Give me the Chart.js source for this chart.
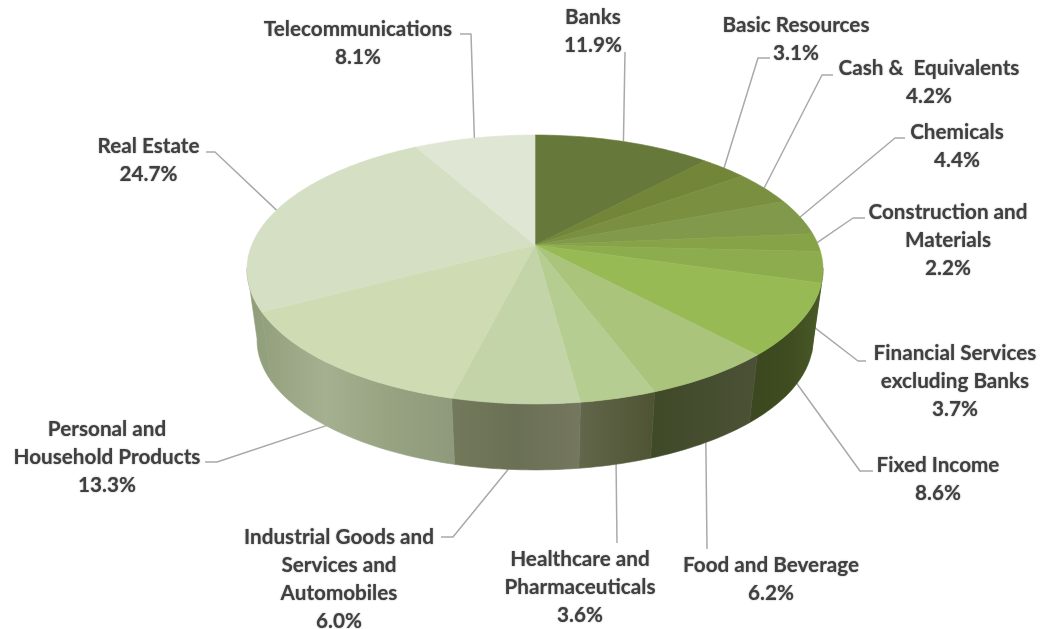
<!DOCTYPE html>
<html lang="en">
<head>
    <meta charset="UTF-8">
    <title>Portfolio by sector</title>
    <script src="https://cdn.jsdelivr.net/npm/chart.js"></script>
    <style>
        html, body { margin: 0; padding: 0; background: #fff; }
        canvas { display: block; }
    </style>
</head>
<body>
    <canvas id="sectorChart" width="1042" height="629"></canvas>

    <script>
        // values as printed on the data labels
        const sectors = ['Banks', 'Basic Resources', 'Cash &  Equivalents', 'Chemicals', 'Construction and Materials',
            'Financial Services excluding Banks', 'Fixed Income', 'Food and Beverage', 'Healthcare and Pharmaceuticals',
            'Industrial Goods and Services and Automobiles', 'Personal and Household Products', 'Real Estate', 'Telecommunications'];
        const shares = [11.9, 3.1, 4.2, 4.4, 2.2, 3.7, 8.6, 6.2, 3.6, 6.0, 13.3, 24.7, 8.1];

        // how each label wraps
        const labelLines = [
            ['Banks'], ['Basic Resources'], ['Cash &  Equivalents'], ['Chemicals'], ['Construction and', 'Materials'],
            ['Financial Services', 'excluding Banks'], ['Fixed Income'], ['Food and Beverage'], ['Healthcare and', 'Pharmaceuticals'],
            ['Industrial Goods and', 'Services and', 'Automobiles'], ['Personal and', 'Household Products'], ['Real Estate'], ['Telecommunications']
        ];

        const topColors = ['#67793a', '#728538', '#7a8f3f', '#80994a', '#86a348', '#8dac4e', '#98ba55',
            '#aac47c', '#b5cd90', '#c3d4a8', '#cedbb3', '#d5dfc3', '#dfe6d4'];
        // wall shading per slice, listed left to right on screen
        const wallColors = [null, null, null, null, null,
            ['#4a5a28', '#4a5a28'], ['#3c481f', '#3f4c20', '#4a5a28'], ['#3f4a28', '#4b5136'], ['#62664a', '#4e5433'],
            ['#737a5b', '#6a7055', '#75775f'], ['#93a07d', '#a5b090', '#98a382', '#8e9a7b'], ['#8f9a78', '#93a07d'], null];

        // label placement: centre x, first line y, then the leader elbow and end
        const labelX = [593, 796, 929, 957, 948, 955, 938, 771, 580, 339, 107, 148.5, 358];
        const labelY = [17, 25, 68, 132, 212, 353, 465, 565, 559, 537, 429, 146, 29];
        const leaders = [
            [[625, 52]],
            [[758, 58], [770, 58]],
            [[822, 75], [833, 75]],
            [[895, 138], [905, 138]],
            [[853, 218], [865, 218]],
            [[858, 361], [866, 361]],
            [[860, 471], [873, 471]],
            [[707, 549]],
            [[617, 543]],
            [[453, 537], [441, 537]],
            [[217, 462], [205, 462]],
            [[215, 152], [206, 152]],
            [[471, 34], [460, 34]]
        ];
        const LINE_H = 28;

        // perspective of the disc: apex sits above the centre of the ellipse
        const CX = 535, APEX_Y = 245, SCALE_Y = 85.4, SCALE_X = 283.2, K = 0.182;
        const ELLIPSE_Y = 269.5, DEPTH = 70.7, SHRINK = 0.035;
        const WALL_FROM = 100 * Math.PI / 180, WALL_TO = 260 * Math.PI / 180;

        // a = angle clockwise from 12 o'clock, d = 0 top face, 1 bottom face
        function project(a, d) {
            const u = Math.sin(a), v = -Math.cos(a), w = 1 - K * v;
            const x = CX + SCALE_X * u / w;
            const y = (SCALE_Y * v + APEX_Y) / w;
            const s = 1 - SHRINK * d;
            return [CX + (x - CX) * s, ELLIPSE_Y + (y - ELLIPSE_Y) * s + DEPTH * d];
        }

        function edge(ctx, a0, a1, d) {
            const n = Math.max(2, Math.ceil(Math.abs(a1 - a0) / 0.02));
            for (let i = 0; i <= n; i++) {
                const p = project(a0 + (a1 - a0) * i / n, d);
                ctx.lineTo(p[0], p[1]);
            }
        }

        const pie3d = {
            id: 'pie3d',
            // Chart.js works out the arcs, this only paints them in perspective
            beforeDatasetsDraw(chart) {
                const ctx = chart.ctx;
                const arcs = chart.getDatasetMeta(0).data;
                const turn = arc => [arc.startAngle + Math.PI / 2, arc.endAngle + Math.PI / 2];

                ctx.save();
                ctx.lineJoin = 'round';

                // leaders first, the disc covers their ends
                ctx.strokeStyle = '#a9a9a9';
                ctx.lineWidth = 1.5;
                arcs.forEach((arc, i) => {
                    const [a0, a1] = turn(arc);
                    const mid = (a0 + a1) / 2;
                    const onWall = mid >= WALL_FROM - 0.02 && mid <= WALL_TO;
                    const start = project(mid, onWall ? 0.85 : 0);
                    ctx.beginPath();
                    ctx.moveTo(start[0], start[1]);
                    leaders[i].forEach(p => ctx.lineTo(p[0], p[1]));
                    ctx.stroke();
                });

                // side wall
                arcs.forEach((arc, i) => {
                    const [a0, a1] = turn(arc);
                    const from = Math.max(a0, WALL_FROM), to = Math.min(a1, WALL_TO);
                    if (!wallColors[i] || from >= to) return;
                    const xs = [project(from, 0)[0], project(to, 0)[0]];
                    const grad = ctx.createLinearGradient(Math.min(...xs), 0, Math.max(...xs), 0);
                    wallColors[i].forEach((c, k) => grad.addColorStop(k / (wallColors[i].length - 1), c));
                    ctx.beginPath();
                    edge(ctx, from, to, 0);
                    edge(ctx, to, from, 1);
                    ctx.closePath();
                    ctx.fillStyle = grad;
                    ctx.strokeStyle = grad;
                    ctx.lineWidth = 0.6;
                    ctx.fill();
                    ctx.stroke();
                });

                // top face
                arcs.forEach((arc, i) => {
                    const [a0, a1] = turn(arc);
                    ctx.beginPath();
                    ctx.moveTo(CX, APEX_Y);
                    edge(ctx, a0, a1, 0);
                    ctx.closePath();
                    ctx.fillStyle = topColors[i];
                    ctx.strokeStyle = topColors[i];
                    ctx.lineWidth = 0.6;
                    ctx.fill();
                    ctx.stroke();
                });

                // data labels, the small shadow gives the heavier soft look of the original
                ctx.fillStyle = '#404040';
                ctx.shadowColor = 'rgba(64, 64, 64, 0.6)';
                ctx.shadowBlur = 1.5;
                ctx.font = 'bold 20.7px Lato';
                ctx.textAlign = 'center';
                ctx.textBaseline = 'middle';
                sectors.forEach((name, i) => {
                    const lines = labelLines[i].concat(shares[i].toFixed(1) + '%');
                    lines.forEach((line, k) => ctx.fillText(line, labelX[i], labelY[i] + k * LINE_H));
                });

                ctx.restore();
                return false;
            }
        };

        new Chart(document.getElementById('sectorChart').getContext('2d'), {
            type: 'pie',
            data: {
                labels: sectors,
                datasets: [{ data: shares, backgroundColor: topColors, borderWidth: 0 }]
            },
            options: {
                responsive: false,
                animation: false,
                plugins: {
                    legend: { display: false },
                    tooltip: { enabled: false }
                }
            },
            plugins: [pie3d]
        });
    </script>
</body>
</html>
